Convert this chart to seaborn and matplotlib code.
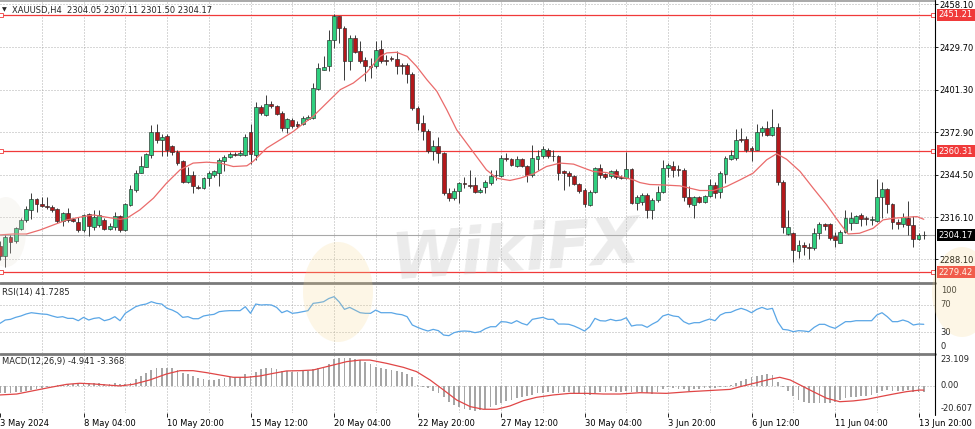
import numpy as np
import pandas as pd
import seaborn as sns
import matplotlib.pyplot as plt
from matplotlib.lines import Line2D
from matplotlib.patches import Ellipse
from matplotlib.transforms import blended_transform_factory

# ---------------- data (XAUUSD H4) ----------------
opens = [2297.0, 2290.0, 2303.0, 2300.0, 2308.3, 2314.0, 2321.3, 2328.2, 2325.1, 2323.7,
         2323.3, 2321.5, 2313.9, 2318.8, 2314.8, 2313.3, 2307.7, 2318.4, 2309.9, 2311.0,
         2314.4, 2308.4, 2309.9, 2317.0, 2307.7, 2324.4, 2334.4, 2346.0, 2350.0, 2358.0,
         2372.8, 2368.0, 2370.1, 2363.4, 2360.0, 2353.4, 2340.0, 2344.5, 2336.2, 2335.6,
         2342.2, 2344.5, 2345.6, 2353.4, 2356.3, 2358.5, 2357.4, 2357.8, 2372.8, 2357.8,
         2389.7, 2384.6, 2391.9, 2390.6, 2385.7, 2375.7, 2381.2, 2378.5, 2378.5, 2381.7,
         2382.3, 2401.7, 2414.6, 2416.9, 2434.7, 2450.3, 2442.5, 2420.2, 2435.8, 2426.9,
         2421.3, 2416.9, 2416.9, 2428.5, 2421.3, 2422.4, 2421.8, 2418.0, 2418.0, 2412.0,
         2389.0, 2379.0, 2373.4, 2360.1, 2363.8, 2358.9, 2332.2, 2328.9, 2334.0, 2338.9,
         2337.8, 2337.8, 2332.9, 2336.2, 2339.3, 2344.2, 2343.8, 2355.6, 2355.0, 2350.5,
         2355.0, 2350.5, 2344.5, 2354.9, 2357.2, 2360.7, 2357.2, 2357.2, 2346.7, 2346.0,
         2343.8, 2338.4, 2334.4, 2324.4, 2333.3, 2348.9, 2345.1, 2343.8, 2346.7, 2342.9,
         2342.2, 2348.3, 2326.0, 2326.6, 2331.1, 2321.1, 2327.8, 2333.3, 2348.9, 2350.5,
         2348.3, 2347.8, 2330.0, 2324.4, 2329.6, 2326.6, 2330.4, 2337.8, 2333.3, 2345.1,
         2354.9, 2355.6, 2368.3, 2368.3, 2362.3, 2361.2, 2372.8, 2375.7, 2371.2, 2376.3,
         2340.0, 2305.0, 2305.5, 2293.9, 2297.7, 2296.6, 2295.4, 2305.5, 2311.7, 2311.7,
         2303.7, 2299.2, 2306.6, 2312.2, 2312.6, 2317.7, 2315.5, 2314.4, 2313.9, 2330.0,
         2334.9, 2325.1, 2313.3, 2311.7, 2315.5, 2311.0, 2301.5, 2304.05]
highs = [2300.0, 2304.5, 2304.0, 2309.9, 2315.5, 2323.7, 2332.2, 2328.9, 2330.0, 2330.0,
         2324.4, 2322.2, 2320.0, 2322.2, 2315.5, 2316.6, 2318.4, 2318.8, 2321.1, 2321.1,
         2315.5, 2312.2, 2320.0, 2317.7, 2325.5, 2337.8, 2347.8, 2356.7, 2359.0, 2377.9,
         2378.6, 2372.0, 2372.0, 2364.5, 2361.2, 2354.5, 2350.0, 2346.7, 2337.8, 2343.3,
         2346.7, 2347.8, 2355.6, 2357.8, 2359.4, 2359.4, 2360.7, 2372.0, 2378.6, 2393.0,
         2391.3, 2397.9, 2393.5, 2391.3, 2386.8, 2382.3, 2382.3, 2380.1, 2383.4, 2384.5,
         2405.7, 2419.1, 2423.5, 2441.4, 2451.5, 2450.7, 2443.6, 2438.0, 2438.0, 2433.6,
         2423.1, 2422.4, 2433.6, 2434.7, 2424.7, 2424.0, 2426.9, 2419.1, 2419.1, 2412.9,
         2390.1, 2384.6, 2375.0, 2367.9, 2370.0, 2360.0, 2335.6, 2335.6, 2340.0, 2343.3,
         2347.8, 2343.3, 2335.6, 2341.1, 2347.8, 2347.8, 2357.8, 2358.9, 2355.6, 2356.7,
         2355.6, 2351.1, 2364.5, 2361.2, 2363.4, 2362.3, 2361.2, 2357.8, 2347.8, 2346.7,
         2344.5, 2339.3, 2335.6, 2334.4, 2349.6, 2351.8, 2346.0, 2347.8, 2348.3, 2344.5,
         2360.0, 2348.9, 2331.1, 2332.2, 2332.2, 2328.9, 2336.7, 2354.5, 2352.3, 2353.4,
         2351.1, 2348.9, 2336.7, 2330.4, 2330.4, 2331.1, 2341.6, 2340.0, 2346.7, 2357.2,
         2361.2, 2375.0, 2375.7, 2370.1, 2363.4, 2378.6, 2376.8, 2380.1, 2388.3, 2379.0,
         2341.1, 2321.1, 2306.6, 2301.0, 2299.9, 2298.8, 2308.8, 2313.3, 2312.6, 2312.6,
         2306.6, 2307.7, 2321.1, 2320.0, 2317.7, 2318.8, 2317.0, 2317.0, 2341.6, 2340.0,
         2335.6, 2326.0, 2314.8, 2318.8, 2327.3, 2317.0, 2305.5, 2307.11]
lows = [2287.5, 2283.2, 2292.1, 2299.0, 2307.5, 2313.3, 2314.8, 2320.0, 2323.0, 2322.0,
        2320.0, 2312.1, 2310.0, 2313.3, 2313.3, 2306.6, 2306.6, 2303.7, 2307.7, 2309.5,
        2307.7, 2307.7, 2307.7, 2306.6, 2307.2, 2323.7, 2333.3, 2345.6, 2349.6, 2356.0,
        2366.0, 2356.7, 2357.0, 2357.8, 2351.1, 2338.9, 2338.9, 2332.6, 2334.9, 2334.9,
        2336.7, 2343.3, 2336.7, 2346.7, 2355.6, 2356.7, 2356.7, 2356.7, 2351.8, 2354.5,
        2384.6, 2383.5, 2389.0, 2384.6, 2373.4, 2372.3, 2375.7, 2375.7, 2377.9, 2381.2,
        2381.7, 2400.8, 2414.2, 2414.0, 2429.0, 2432.5, 2408.0, 2414.6, 2425.8, 2419.1,
        2406.9, 2409.1, 2415.8, 2419.1, 2418.0, 2420.2, 2412.0, 2412.0, 2405.7, 2387.9,
        2374.5, 2368.0, 2358.9, 2354.5, 2352.3, 2331.1, 2327.3, 2327.8, 2326.0, 2335.6,
        2335.6, 2332.2, 2332.2, 2332.2, 2337.8, 2341.1, 2343.3, 2353.4, 2350.5, 2350.0,
        2350.0, 2340.0, 2343.3, 2347.8, 2355.6, 2355.6, 2353.4, 2341.1, 2334.4, 2336.7,
        2337.8, 2332.6, 2322.9, 2323.7, 2332.2, 2342.2, 2341.6, 2342.2, 2341.6, 2341.6,
        2341.6, 2325.1, 2321.1, 2324.4, 2315.5, 2314.8, 2326.6, 2332.2, 2343.3, 2343.3,
        2343.8, 2327.3, 2322.9, 2315.5, 2326.0, 2326.0, 2329.6, 2328.9, 2328.9, 2338.9,
        2354.5, 2354.5, 2366.3, 2359.4, 2353.4, 2360.7, 2370.1, 2370.1, 2370.1, 2337.8,
        2305.5, 2304.4, 2286.5, 2288.8, 2291.0, 2288.1, 2294.3, 2301.5, 2307.7, 2301.0,
        2296.6, 2298.8, 2305.9, 2307.7, 2312.2, 2310.4, 2311.0, 2311.0, 2313.3, 2315.5,
        2318.8, 2308.1, 2308.1, 2309.9, 2304.4, 2296.6, 2301.0, 2301.50]
closes = [2290.5, 2303.2, 2299.5, 2308.8, 2314.0, 2321.5, 2328.2, 2325.1, 2323.7, 2322.8,
          2321.1, 2313.9, 2318.8, 2314.4, 2313.9, 2307.7, 2317.7, 2310.4, 2316.2, 2317.7,
          2308.4, 2310.6, 2317.0, 2307.7, 2325.1, 2334.9, 2346.0, 2350.5, 2358.5, 2372.8,
          2367.9, 2370.0, 2361.2, 2360.0, 2352.3, 2340.0, 2344.5, 2336.7, 2335.6, 2342.2,
          2345.6, 2346.7, 2354.5, 2356.3, 2358.5, 2358.0, 2358.9, 2370.0, 2358.5, 2389.7,
          2385.7, 2391.9, 2390.1, 2385.2, 2375.7, 2381.7, 2376.8, 2377.3, 2382.3, 2383.0,
          2402.4, 2415.8, 2416.4, 2434.7, 2450.3, 2442.5, 2420.2, 2435.8, 2426.2, 2420.2,
          2416.9, 2416.2, 2428.0, 2420.2, 2420.2, 2421.8, 2417.3, 2417.3, 2412.0, 2389.0,
          2379.0, 2373.4, 2360.1, 2363.8, 2358.9, 2332.2, 2328.9, 2334.0, 2338.9, 2338.2,
          2337.1, 2332.7, 2334.4, 2340.0, 2343.8, 2344.5, 2355.6, 2355.0, 2351.1, 2355.0,
          2350.5, 2344.5, 2355.6, 2357.2, 2361.6, 2356.7, 2356.7, 2346.0, 2345.6, 2343.8,
          2338.4, 2334.0, 2325.1, 2333.3, 2348.9, 2344.5, 2342.9, 2346.7, 2342.9, 2342.2,
          2348.3, 2326.0, 2330.0, 2331.1, 2321.1, 2327.8, 2333.3, 2348.9, 2351.1, 2347.8,
          2347.4, 2330.0, 2325.1, 2329.6, 2326.6, 2330.4, 2337.8, 2332.2, 2345.6, 2355.6,
          2357.8, 2367.9, 2367.4, 2361.2, 2360.7, 2372.8, 2375.7, 2371.2, 2376.3, 2340.0,
          2309.9, 2309.5, 2294.3, 2297.7, 2296.1, 2295.7, 2305.5, 2311.7, 2310.4, 2302.1,
          2301.0, 2306.6, 2315.5, 2315.5, 2317.1, 2314.8, 2314.8, 2315.3, 2330.0, 2334.9,
          2325.1, 2313.3, 2311.7, 2316.2, 2311.0, 2301.5, 2304.4, 2304.17]

# moving average line (bar position, price)
ma_x = [0, 2.6, 5.1, 7.7, 10.2, 12.8, 15.3, 17.9, 20.4, 23, 24.3, 26.8, 29.4, 31.9, 34.5,
        37, 39.6, 42.2, 44.7, 47.3, 48.5, 51.1, 53.7, 56.2, 57.5, 60, 62.6, 65.2, 67.7,
        70.3, 72.8, 74.1, 76, 78, 79.8, 81.8, 83.7, 85.6, 87.5, 89.4, 91.3, 93.2, 95.2,
        97.7, 99.6, 102.2, 104.7, 107.3, 109.9, 112.4, 113.7, 116.2, 118.8, 121.4, 122.6,
        124.5, 126.5, 130.3, 134.1, 136.7, 139.2, 141.8, 144.3, 146.9, 148.8, 150.7, 153.3,
        155.8, 158.4, 160.9, 162.5, 164.7, 167.3, 169.2, 171.2, 173.7, 175.7, 177]
ma_vals = [2304.4, 2305.0, 2305.0, 2307.7, 2311.0, 2314.4, 2316.2, 2317.7, 2316.2, 2314.8,
           2315.5, 2321.1, 2328.9, 2338.9, 2347.8, 2352.3, 2352.9, 2352.3, 2350.0, 2350.5,
           2353.4, 2362.3, 2367.9, 2373.4, 2377.0, 2383.5, 2392.4, 2401.3, 2405.7, 2412.9,
           2423.5, 2425.8, 2426.2, 2423.5, 2416.9, 2407.9, 2400.2, 2387.9, 2374.5, 2365.6,
           2356.7, 2347.8, 2342.2, 2340.7, 2342.2, 2345.1, 2350.0, 2352.3, 2351.6, 2348.3,
           2346.7, 2346.0, 2343.3, 2341.1, 2339.3, 2338.0, 2337.8, 2337.1, 2334.0, 2334.0,
           2336.7, 2341.1, 2345.6, 2354.5, 2358.5, 2354.9, 2346.7, 2335.6, 2324.4, 2312.2,
           2305.0, 2305.5, 2308.8, 2314.4, 2315.5, 2316.2, 2316.6, 2314.8]

rsi_vals = [43.1, 48, 49, 51.9, 53.9, 56.8, 58.7, 57.8, 56.8, 56.3, 53.9, 51.9, 52.9, 50.4,
            50.4, 47, 51.9, 48, 50.4, 51.4, 47, 49, 52.9, 47, 57.8, 62.6, 67.5, 70, 71.4,
            74.8, 72.4, 71.4, 65.1, 62.6, 58.7, 51.9, 52.9, 49.9, 49.9, 53.9, 55.3, 56.3,
            60.2, 61.2, 61.7, 61.7, 61.7, 67.5, 57.8, 71.4, 70, 70.4, 70, 66.5, 58.7, 61.7,
            57.8, 58.7, 60.2, 61.7, 72.4, 73.4, 74.8, 79.5, 82.2, 74.4, 63.6, 66.5, 62.6,
            58.7, 57.8, 57.8, 62.6, 58.7, 58.7, 58.7, 56.8, 55.8, 52.9, 40.7, 37.3, 34.3,
            31.9, 34.3, 32.4, 26.0, 25.1, 29.5, 31.4, 31.9, 31.4, 29.5, 30.9, 35.3, 38.2,
            38.2, 45.6, 45.1, 43.1, 47, 43.1, 40.7, 49, 50.4, 51.9, 49, 49, 42.1, 42.1,
            41.7, 39.2, 35.8, 31.9, 38.2, 50.4, 47, 46.5, 49, 47, 48, 51.4, 39.2, 40.7,
            40.7, 37.3, 42.1, 46, 53.9, 56.3, 53.9, 52.9, 45.6, 42.1, 44.1, 44.1, 47, 49.5,
            47, 55.3, 58.7, 59.2, 62.6, 65.1, 62.6, 58.7, 63.6, 66.5, 63.6, 65.1, 45.6, 34.3,
            33.4, 30.9, 32.4, 31.9, 30.9, 37.3, 41.7, 41.7, 38.2, 35.8, 40.7, 45.6, 45.6, 47,
            47, 47, 47, 55.3, 58.7, 52.9, 45.6, 45.6, 48, 45.6, 40.7, 42.1, 41.73]

macd_hist = [-5.3, -5.5, -5.3, -5.0, -4.6, -4.0, -3.2, -2.4, -1.8, -0.9, -0.2, 0.4, 0.8, 1.2,
             1.4, 1.3, 1.6, 1.7, 1.8, 1.9, 1.6, 1.5, 1.7, 1.0, 1.2, 2.3, 4.8, 7.3, 9.8, 11.8,
             13.1, 13.6, 13.6, 13.1, 11.8, 9.3, 8.8, 7.3, 5.5, 4.8, 4.3, 4.3, 4.8, 5.5, 6.3,
             6.3, 6.8, 8.8, 7.3, 10.6, 12.3, 13.1, 13.1, 12.8, 11.3, 11.1, 10.6, 10.6, 11.1,
             11.3, 12.3, 13.1, 14.3, 16.3, 19.8, 20.6, 20.6, 20.6, 19.8, 19.3, 18.1, 16.1,
             14.3, 13.1, 12.3, 11.8, 11.3, 10.6, 8.8, 6.3, 0.5, -0.8, -2.0, -3.8, -5.8, -8.3,
             -12.1, -14.6, -16.3, -17.8, -18.3, -18.8, -18.3, -17.8, -15.8, -14.6, -12.8,
             -11.3, -10.8, -9.5, -8.3, -7.8, -7.0, -5.8, -5.3, -4.8, -5.3, -5.3, -4.8, -4.8,
             -5.3, -5.8, -7.0, -7.0, -5.3, -4.5, -4.5, -3.8, -4.5, -4.5, -3.8, -4.5, -4.5,
             -4.8, -5.8, -6.3, -4.5, -2.8, -1.3, -2.0, -2.8, -2.8, -3.8, -2.8, -2.8, -2.0,
             -2.0, -2.0, -1.3, -0.8, 0.5, 2.3, 3.8, 4.8, 6.3, 7.3, 8.0, 8.8, 8.0, 3.0, -1.3,
             -3.8, -7.8, -10.8, -12.1, -12.8, -12.8, -12.8, -12.8, -12.8, -12.1, -10.8, -9.5,
             -8.8, -8.3, -7.8, -7.5, -7.0, -5.3, -3.8, -3.3, -3.8, -3.8, -3.8, -3.3, -4.5,
             -5.0, -4.941]

# MACD signal line (bar position, value)
sig_x = [0, 3.2, 6.4, 9.6, 12.8, 15.3, 17.9, 20.4, 23, 25.5, 28.7, 31.9, 34.5, 37, 39.6,
         42.2, 44.7, 47.3, 49.8, 52.4, 54.9, 57.5, 60, 63.9, 66.4, 69, 70.9, 74.1, 77.3,
         79.8, 82.4, 85, 87.5, 90.1, 92.6, 95.2, 97.7, 100.3, 102.8, 106, 109.2, 112.4,
         115.6, 118.8, 122.6, 127.7, 132.2, 135.4, 139.9, 141.8, 145, 147.5, 149.4, 151.4,
         153.3, 155.8, 158.4, 160.9, 163.5, 166.1, 168.6, 171.2, 173.7, 176.3, 177]
sig_vals = [-7.0, -6.3, -3.8, -1.3, 1.0, 1.8, 1.3, 0.5, -0.2, 1.0, 4.3, 8.8, 11.3, 11.3, 9.8,
            8.0, 6.3, 6.3, 7.3, 9.3, 11.1, 11.3, 11.8, 15.6, 18.1, 19.3, 19.3, 16.8, 13.8,
            10.6, 4.3, -3.3, -10.8, -15.8, -17.8, -17.8, -15.3, -11.3, -8.8, -7.0, -5.8,
            -5.8, -6.3, -6.3, -5.3, -5.8, -4.5, -3.8, -2.8, -0.8, 2.3, 4.8, 6.3, 4.3, 0.5,
            -4.5, -9.5, -12.1, -11.5, -10.3, -8.3, -6.3, -4.5, -3.3, -3.368]

price_ticks = [2458.10, 2429.70, 2401.30, 2372.90, 2344.50, 2316.10, 2288.10]
red_levels = [2451.21, 2360.31, 2279.42]
last_price = 2304.17
date_bars = [0, 16, 32, 48, 64, 80, 96, 112, 128, 144, 160, 176]
date_labels = ["3 May 2024", "8 May 04:00", "10 May 20:00", "15 May 12:00", "20 May 04:00",
               "22 May 20:00", "27 May 12:00", "30 May 04:00", "3 Jun 20:00", "6 Jun 12:00",
               "11 Jun 04:00", "13 Jun 20:00"]
grid_bars = list(range(8, 177, 8))

# ---------------- style ----------------
W, H = 975, 429
AX_R = 935
GREEN = "#2fcf7f"
RED = "#b3181b"
LEVEL_RED = "#f03a3a"
GRID = "#a0a0a0"
DOT = (0, (1.2, 2.4))

sns.set_style("white")
plt.rcParams["font.family"] = ["DejaVu Sans"]
plt.rcParams["font.size"] = 6

df = pd.DataFrame({"bar": np.arange(len(closes)), "open": opens, "high": highs,
                   "low": lows, "close": closes})

fig = plt.figure(figsize=(W / 100, H / 100), dpi=100)
fig.patch.set_facecolor("white")


def box(top, bottom):
    return [0, 1 - bottom / H, AX_R / W, (bottom - top) / H]


main = fig.add_axes(box(1.5, 281.5))
rsi = fig.add_axes(box(284.5, 352.8))
macd = fig.add_axes(box(355, 413))

for ax in (main, rsi, macd):
    ax.set_xlim(0, 179.15)
    ax.set_facecolor("white")
    for s in ax.spines.values():
        s.set_visible(False)
    for b in grid_bars:
        ax.axvline(b, color=GRID, lw=0.6, ls=DOT, zorder=1)
    ax.yaxis.tick_right()
    ax.tick_params(axis="y", length=2.2, width=0.6, pad=1.2, labelsize=6, colors="black")

# ---------------- main price panel ----------------
main.set_ylim(2273.3, 2460.1)
main.set_xticks([])
main.set_yticks(price_ticks)
main.set_yticklabels([f"{t:.2f}" for t in price_ticks])
for t in price_ticks:
    main.axhline(t, color=GRID, lw=0.6, ls=DOT, zorder=1)

up = df["close"] >= df["open"]
body_low = np.minimum(df["open"], df["close"])
body_h = np.maximum((df["close"] - df["open"]).abs(), 0.35)
main.vlines(df["bar"], df["low"], df["high"], color="#3a3a3a", lw=0.7, zorder=3)
main.bar(df["bar"][up], body_h[up], bottom=body_low[up], width=0.74, color=GREEN,
         edgecolor="#2a2a2a", linewidth=0.45, zorder=4)
main.bar(df["bar"][~up], body_h[~up], bottom=body_low[~up], width=0.74, color=RED,
         edgecolor="#2a2a2a", linewidth=0.45, zorder=4)

sns.lineplot(x=ma_x, y=ma_vals, ax=main, color="#ea6b6b", linewidth=0.9, zorder=5)

tr = blended_transform_factory(main.transAxes, main.transData)
for lvl in red_levels:
    main.axhline(lvl, color=LEVEL_RED, lw=0.9, zorder=2)
    main.plot([0.25, 178.8], [lvl, lvl], ls="none", marker="s", ms=2.3, mfc="white",
              mec=LEVEL_RED, mew=0.6, clip_on=False, zorder=6)
    main.text(1.004, lvl, f"{lvl:.2f}", transform=tr, va="center", ha="left", color="white",
              fontsize=6, clip_on=False, zorder=7,
              bbox=dict(boxstyle="square,pad=0.2", fc=LEVEL_RED, ec="none"))
main.axhline(last_price, color="#a8a8a8", lw=0.8, zorder=2)
main.text(1.004, last_price, f"{last_price:.2f}", transform=tr, va="center", ha="left",
          color="white", fontsize=6, clip_on=False, zorder=7,
          bbox=dict(boxstyle="square,pad=0.2", fc="black", ec="none"))

# ---------------- RSI panel ----------------
sns.lineplot(x=df["bar"], y=rsi_vals, ax=rsi, color="#5aa6e6", linewidth=0.9, zorder=4)
rsi.set_ylim(0, 100)
rsi.set_xticks([])
rsi.set_yticks([])
for lv in (70, 30):
    rsi.axhline(lv, color=GRID, lw=0.6, ls=DOT, zorder=1)
tr_r = blended_transform_factory(rsi.transAxes, rsi.transData)
for val, txt, va in [(98, "100", "top"), (70, "70", "center"), (30, "30", "center"),
                     (2, "0", "bottom")]:
    rsi.text(1.006, val, txt, transform=tr_r, va=va, ha="left", fontsize=6, clip_on=False)

# ---------------- MACD panel ----------------
macd.bar(df["bar"], macd_hist, width=0.34, color="#a6a6a6", linewidth=0, zorder=3)
sns.lineplot(x=sig_x, y=sig_vals, ax=macd, color="#e04646", linewidth=0.9, zorder=4)
macd.set_ylim(-20.607, 23.109)
macd.axhline(0, color=GRID, lw=0.6, ls=DOT, zorder=1)
macd.set_yticks([])
tr_m = blended_transform_factory(macd.transAxes, macd.transData)
for val, txt, va in [(23.109, "23.109", "top"), (0, "0.00", "center"),
                     (-20.607, "-20.607", "bottom")]:
    macd.text(1.006, val, txt, transform=tr_m, va=va, ha="left", fontsize=6, clip_on=False)
macd.set_xticks(date_bars)
macd.set_xticklabels(date_labels, ha="left")
macd.tick_params(axis="x", length=3, width=0.6, pad=1.5, labelsize=6, colors="black",
                 bottom=True)

for ax in (main, rsi, macd):
    ax.set_xlabel("")
    ax.set_ylabel("")

# ---------------- frame, separators, captions ----------------
fx = AX_R / W
fig.add_artist(Line2D([0, fx], [1 - 0.8 / H] * 2, color="#9a9a9a", lw=1.2))
fig.add_artist(Line2D([0, fx], [1 - 283.2 / H] * 2, color="#7a7a7a", lw=2.0))
fig.add_artist(Line2D([0, fx], [1 - 353.9 / H] * 2, color="#7a7a7a", lw=2.0))
fig.add_artist(Line2D([fx, fx], [1 - 415 / H, 1], color="black", lw=0.8))

fig.text(2 / W, 1 - 10 / H, "\u25bc", fontsize=4.5, va="center", ha="left")
fig.text(12.5 / W, 1 - 10 / H, "XAUUSD,H4  2304.05 2307.11 2301.50 2304.17",
         fontsize=6, va="center", ha="left")
fig.text(2 / W, 1 - 292.7 / H, "RSI(14) 41.7285", fontsize=6, va="center", ha="left")
fig.text(2 / W, 1 - 361.7 / H, "MACD(12,26,9) -4.941 -3.368", fontsize=6, va="center",
         ha="left")

# faint watermark
for cx, cy, ew, eh, col in [(338, 292, 70, 100, "#f6d98f"), (962, 292, 60, 90, "#f6d98f"),
                            (6, 232, 40, 70, "#e6e0d2")]:
    fig.add_artist(Ellipse((cx / W, 1 - cy / H), ew / W, eh / H, transform=fig.transFigure,
                           fc=col, ec="none", alpha=0.22, zorder=8))
fig.text(515 / W, 1 - 252 / H, "WikiFX", fontsize=46, fontweight="bold", style="italic",
         color="#b8b8b8", alpha=0.28, ha="center", va="center", rotation=4, zorder=9)

fig.savefig("out.png", dpi=100, facecolor="white")
